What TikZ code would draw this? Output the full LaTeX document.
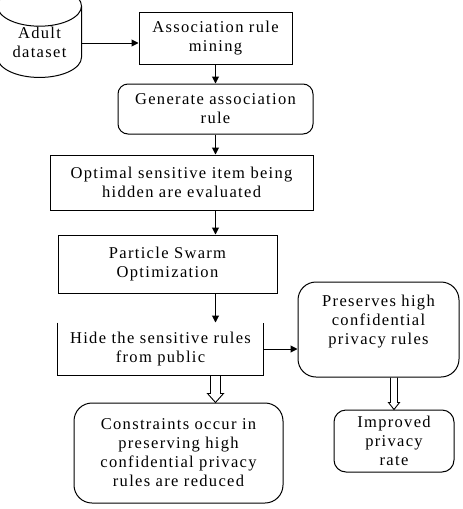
\documentclass[tikz,border=0pt]{standalone}
\usepackage{fontspec}
\setmainfont{Liberation Serif}[LetterSpace=8]
\usetikzlibrary{shapes.geometric,arrows.meta}
\tikzset{
    every node/.style={font=\fontsize{16.5}{19}\selectfont},
    box/.style={draw, rectangle, line width=1pt, align=center, inner sep=0pt},
    rbox/.style={box, rounded corners=#1},
    arr/.style={-{Triangle[length=7pt,width=7pt]}, line width=1pt},
    hollow/.style={line width=0.9pt, line join=miter}
}

\begin{document}
\begin{tikzpicture}[x=1pt,y=-1pt]
        \useasboundingbox (0,0) rectangle (463,509);
        \node[draw, cylinder, shape border rotate=90, aspect=0.75, minimum width=84pt, minimum height=84pt, line width=1pt, align=center, inner sep=0pt] (data) at (39.5,42) {Adult\\dataset};
        \node[box, minimum width=153pt, minimum height=52pt] (assoc) at (215.5,38) {Association rule\\mining};
        \node[rbox=10pt, minimum width=195pt, minimum height=50pt] (gen) at (215.5,109) {Generate association\\rule};
        \node[box, minimum width=263pt, minimum height=55pt] (opt) at (181.5,182.5) {Optimal sensitive item being\\hidden are evaluated};
        \node[box, minimum width=219pt, minimum height=58pt] (pso) at (167.5,264) {Particle Swarm\\Optimization};
        \node[box, draw=none, minimum width=205pt, minimum height=52pt] (hide) at (160.5,349) {Hide the sensitive rules\\from public};
        \node[rbox=18pt, minimum width=161pt, minimum height=95pt] (pres) at (378.5,329.5) {Preserves high\\confidential\\privacy rules\\ \mbox{}};
        \node[rbox=18pt, minimum width=209pt, minimum height=100pt] (cons) at (178.5,453) {Constraints occur in\\preserving high\\confidential privacy\\rules are reduced};
        \node[rbox=12pt, minimum width=120pt, minimum height=62pt] (impr) at (394,441) {Improved\\privacy\\rate};

        % open top of the hide box
        \draw[line width=1pt] (hide.north west) -- (hide.south west) -- (hide.south east) -- (hide.north east);

        \draw[arr] ([yshift=-5pt]assoc.west -| data.east) -- ([yshift=-5pt]assoc.west);
        \draw[arr] (assoc.south) -- (gen.north);
        \draw[arr] (gen.south) -- (gen.south |- opt.north);
        \draw[arr] (opt.south -| gen.south) -- (pso.north -| gen.south);
        \draw[arr] (pso.south -| gen.south) -- (hide.north -| gen.south);
        \draw[arr] (hide.east) -- (hide.east -| pres.west);

        % hollow arrows
        \coordinate (ha) at (hide.south -| gen.south);
        \coordinate (hb) at (cons.north -| gen.south);
        \draw[hollow] ([xshift=-5pt]ha) -- ([xshift=-5pt,yshift=9pt]hb) -- ([xshift=-8pt,yshift=9pt]hb) -- (hb)
            -- ([xshift=8pt,yshift=9pt]hb) -- ([xshift=5pt,yshift=9pt]hb) -- ([xshift=5pt]ha);
        \coordinate (pa) at (pres.south -| impr.north);
        \draw[hollow] ([xshift=-3.5pt]pa) -- ([xshift=-3.5pt,yshift=7pt]impr.north) -- ([xshift=-5.5pt,yshift=7pt]impr.north) -- (impr.north)
            -- ([xshift=5.5pt,yshift=7pt]impr.north) -- ([xshift=3.5pt,yshift=7pt]impr.north) -- ([xshift=3.5pt]pa);
    \end{tikzpicture}
\end{document}
